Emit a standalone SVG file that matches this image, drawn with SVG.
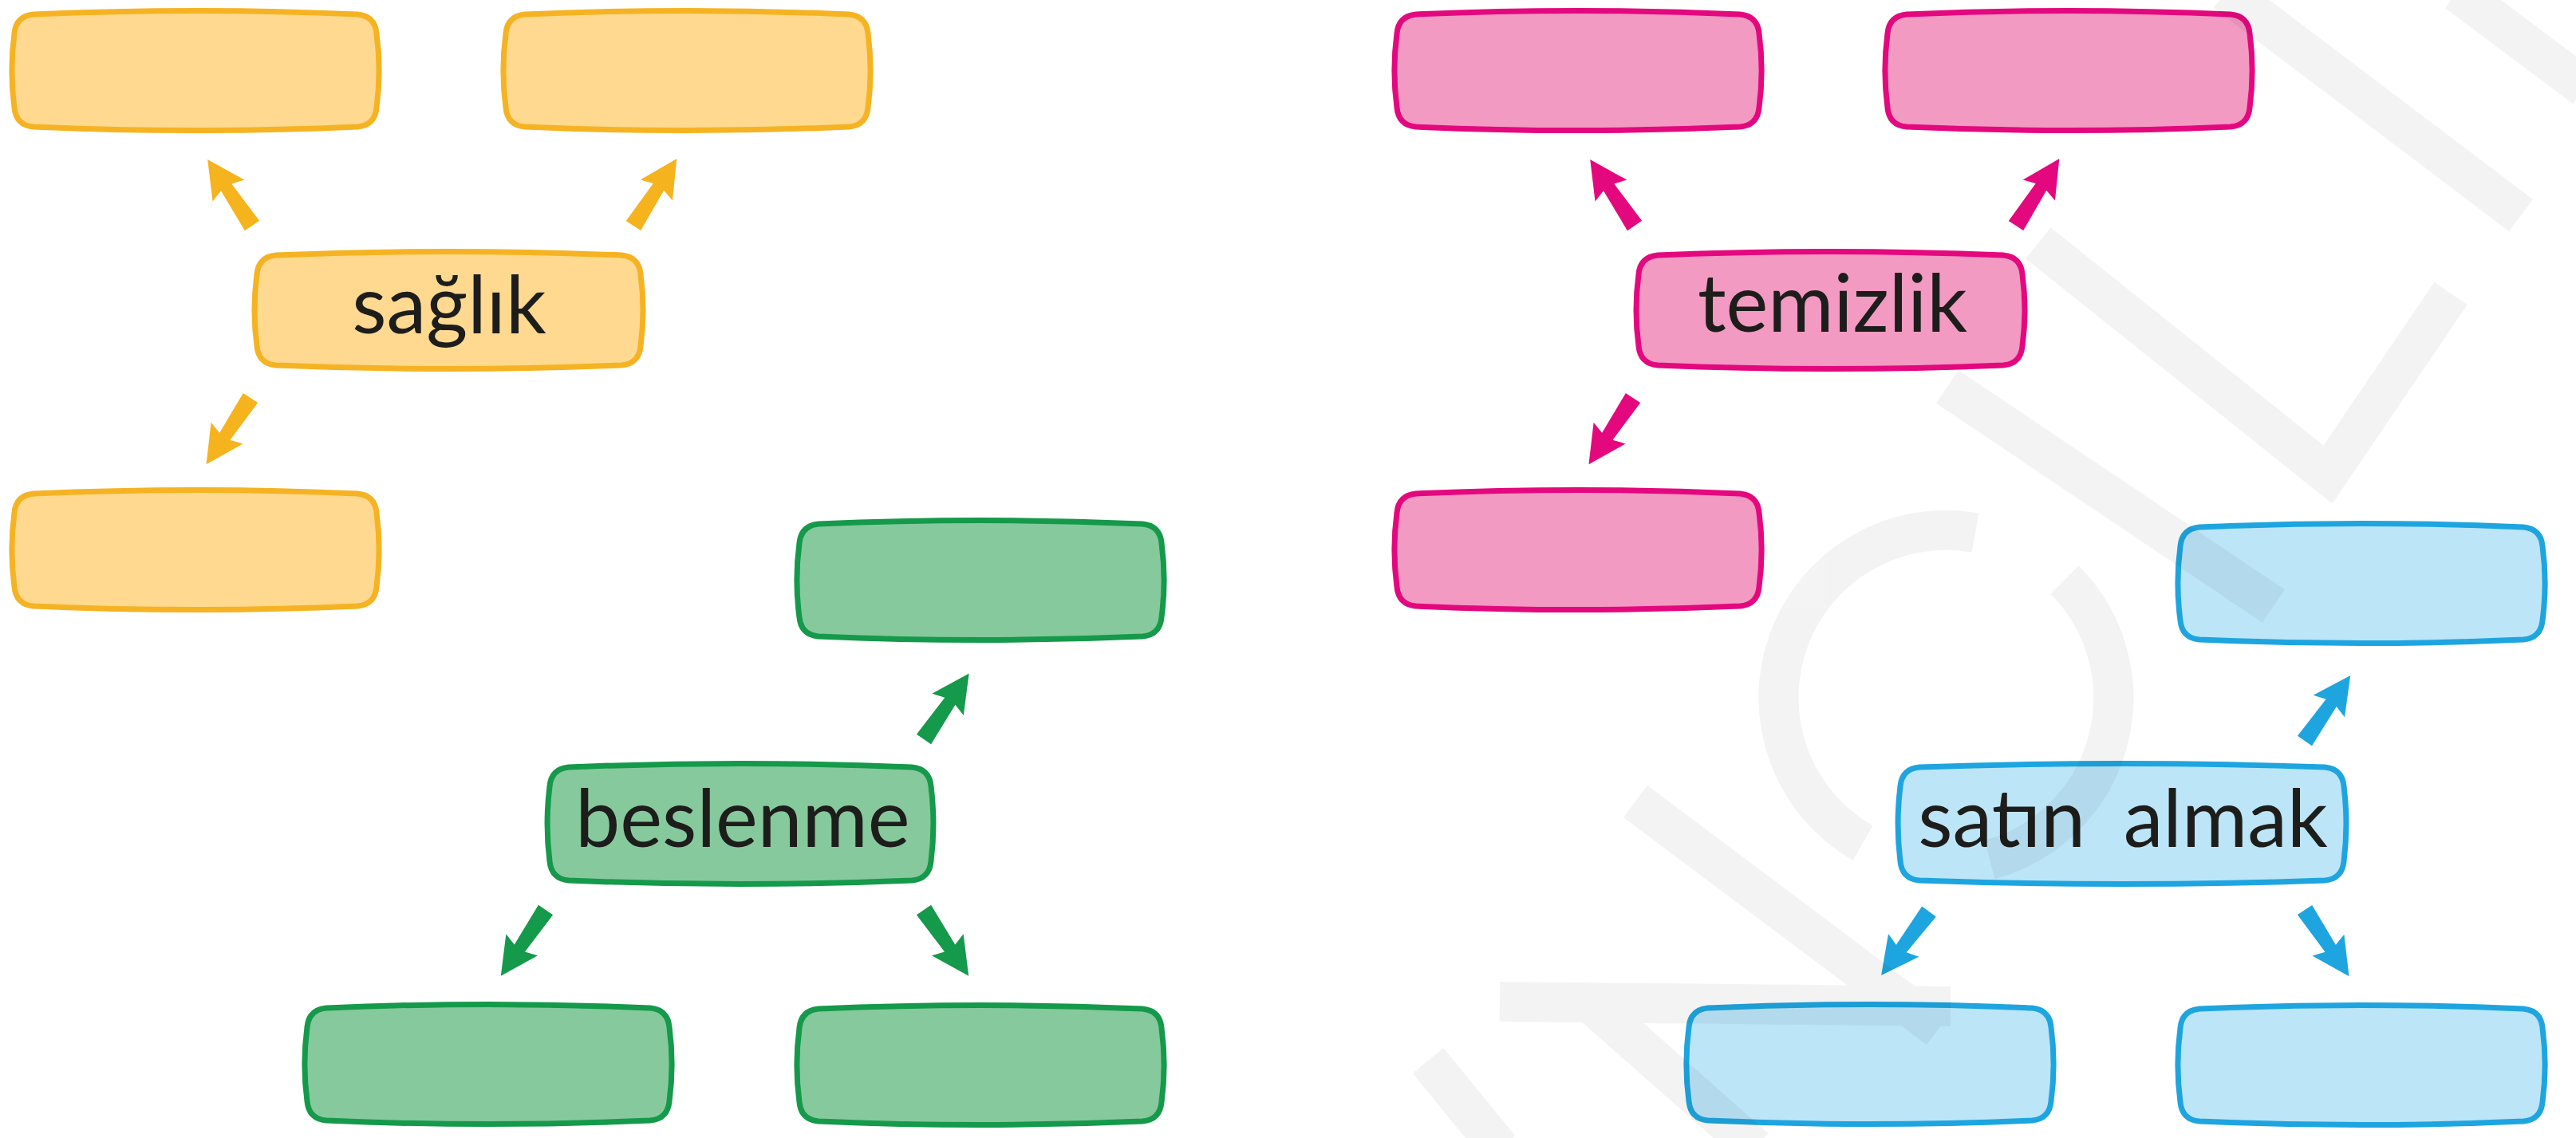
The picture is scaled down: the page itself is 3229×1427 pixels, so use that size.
<svg xmlns="http://www.w3.org/2000/svg" xmlns:xlink="http://www.w3.org/1999/xlink" width="3229" height="1427" viewBox="0 0 3229 1427">
<style>
.y{fill:#FED98F;stroke:#F5B323;stroke-width:7}
.g{fill:#86C99D;stroke:#15994A;stroke-width:7}
.p{fill:#F29AC2;stroke:#E4087F;stroke-width:7}
.b{fill:#BCE5F8;stroke:#1EA5DF;stroke-width:7}
.ay{fill:#F5B31E}
.ag{fill:#15994A}
.ap{fill:#E4087F}
.ab{fill:#1EA5DF}
.lbl{font-family:Lato,"Open Sans","Liberation Sans",sans-serif;font-size:100px;fill:#1d1d1b;text-anchor:middle}
</style>
<defs>
<path id="box" d="M26,6 C160,0 298,0 432,6 Q454,8 456,30 C460,60 460,93 456,123 Q454,145 432,147 C298,153 160,153 26,147 Q4,145 2,123 C-2,93 -2,60 2,30 Q4,8 26,6 Z"/>
<path id="c485" d="M26,6 C170,0 315,0 459,6 Q481,8 483,30 C487,60 487,90 483,120 Q481,142 459,144 C315,150 170,150 26,144 Q4,142 2,120 C-2,90 -2,60 2,30 Q4,8 26,6 Z"/>
<path id="c482" d="M26,6 C168,0 314,0 456,6 Q478,8 480,30 C484,62 484,92 480,124 Q478,146 456,148 C314,154 168,154 26,148 Q4,146 2,124 C-2,92 -2,62 2,30 Q4,8 26,6 Z"/>
<path id="c560" d="M26,6 C195,0 365,0 534,6 Q556,8 558,30 C562,62 562,92 558,124 Q556,146 534,148 C365,154 195,154 26,148 Q4,146 2,124 C-2,92 -2,62 2,30 Q4,8 26,6 Z"/>
<path id="arr" d="M0,-11 L58,-8 L53,-24 L100,0 L53,24 L58,8 L0,11 Z"/>
</defs>
<rect width="3229" height="1427" fill="#ffffff"/>

<g id="saglik-group">
<g id="saglik-tl"><use xlink:href="#box" href="#box" class="y" transform="translate(16,12)"/></g>
<g id="saglik-tr"><use xlink:href="#box" href="#box" class="y" transform="translate(632,12)"/></g>
<g id="saglik-bl"><use xlink:href="#box" href="#box" class="y" transform="translate(16,613)"/></g>
<g id="saglik"><use xlink:href="#c485" href="#c485" class="y" transform="translate(320,314)"/><text class="lbl" x="563" y="418">sağlık</text></g>
</g>

<g id="beslenme-group">
<g id="beslenme-top"><use xlink:href="#box" href="#box" class="g" transform="translate(1000,651)"/></g>
<g id="beslenme-bl"><use xlink:href="#box" href="#box" class="g" transform="translate(383,1258)"/></g>
<g id="beslenme-br"><use xlink:href="#box" href="#box" class="g" transform="translate(1000,1259)"/></g>
<g id="beslenme"><use xlink:href="#c482" href="#c482" class="g" transform="translate(687,956)"/><text class="lbl" x="931" y="1062">beslenme</text></g>
</g>

<g id="temizlik-group">
<g id="temizlik-tl"><use xlink:href="#box" href="#box" class="p" transform="translate(1749,12)"/></g>
<g id="temizlik-tr"><use xlink:href="#box" href="#box" class="p" transform="translate(2364,12)"/></g>
<g id="temizlik-bl"><use xlink:href="#box" href="#box" class="p" transform="translate(1749,613)"/></g>
<g id="temizlik"><use xlink:href="#c485" href="#c485" class="p" transform="translate(2052,314)"/><text class="lbl" x="2297" y="416">temizlik</text></g>
</g>

<g id="satin-almak-group">
<g id="satin-almak-top"><use xlink:href="#box" href="#box" class="b" transform="translate(2731,655)"/></g>
<g id="satin-almak-bl"><use xlink:href="#box" href="#box" class="b" transform="translate(2115,1258)"/></g>
<g id="satin-almak-br"><use xlink:href="#box" href="#box" class="b" transform="translate(2731,1259)"/></g>
<g id="satin-almak"><use xlink:href="#c560" href="#c560" class="b" transform="translate(2380,956)"/><text class="lbl" x="2661" y="1062" style="word-spacing:22px">satın almak</text></g>
</g>

<g id="connectors">
<use xlink:href="#arr" href="#arr" class="ay" transform="translate(316,283) rotate(-123.9)"/>
<use xlink:href="#arr" href="#arr" class="ay" transform="translate(794,283) rotate(-57.1)"/>
<use xlink:href="#arr" href="#arr" class="ay" transform="translate(314,499) rotate(123.7)"/>
<use xlink:href="#arr" href="#arr" class="ap" transform="translate(2049,283) rotate(-123.9)"/>
<use xlink:href="#arr" href="#arr" class="ap" transform="translate(2527,283) rotate(-57.1)"/>
<use xlink:href="#arr" href="#arr" class="ap" transform="translate(2047,499) rotate(123.7)"/>
<use xlink:href="#arr" href="#arr" class="ag" transform="translate(1158,927) rotate(-55.5)"/>
<use xlink:href="#arr" href="#arr" class="ag" transform="translate(684,1141) rotate(124.2)"/>
<use xlink:href="#arr" href="#arr" class="ag" transform="translate(1158,1141) rotate(55.8)"/>
<use xlink:href="#arr" href="#arr" class="ab" transform="translate(2889,929) rotate(-55.1)"/>
<use xlink:href="#arr" href="#arr" class="ab" transform="translate(2418,1143) rotate(126.8)"/>
<use xlink:href="#arr" href="#arr" class="ab" transform="translate(2889,1141) rotate(56.3)"/>
</g>

<g id="watermark" opacity="0.045" fill="none" stroke="#000" stroke-width="50">
<path d="M2790,-10 L3160,270"/>
<path d="M3080,-10 L3240,110"/>
<path d="M2555,305 L2918,595 L3072,368"/>
<path d="M2441,485 L2850,760"/>
<path d="M2476,668 A210,210 0 0,0 2335,1057"/>
<path d="M2588,727 A210,210 0 0,1 2494,1078"/>
<path d="M2050,1005 L2430,1290"/>
<path d="M1880,1256 L2445,1262"/>
<path d="M1985,1250 L2200,1440"/>
<path d="M1790,1330 L1880,1440"/>
</g>
</svg>
